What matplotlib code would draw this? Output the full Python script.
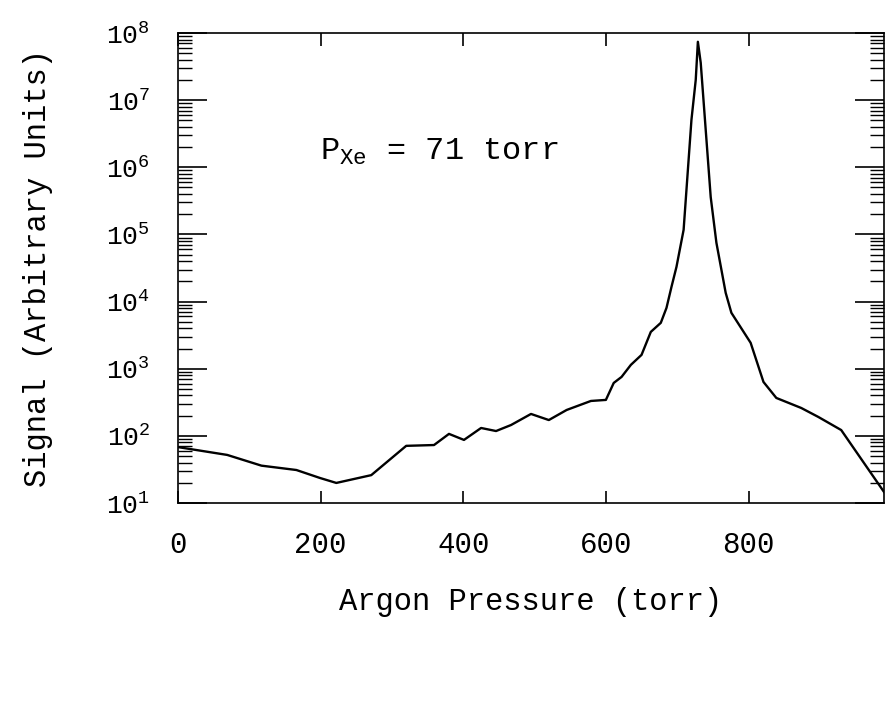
import math
import matplotlib
matplotlib.use("Agg")
import matplotlib.pyplot as plt
from matplotlib.ticker import LogLocator, FuncFormatter, FixedLocator, NullLocator

plt.rcParams['font.family'] = ['Liberation Mono', 'DejaVu Sans Mono']
plt.rcParams['mathtext.fontset'] = 'custom'
plt.rcParams['mathtext.rm'] = 'Liberation Mono'
plt.rcParams['mathtext.it'] = 'Liberation Mono'

# Data
pressure = [0, 69, 117, 166, 199, 222, 271, 320, 359, 380, 401, 425, 446, 467,
            495, 520, 545, 579, 600, 611, 622, 635, 650, 663, 677, 685, 692,
            699, 709, 720, 726, 729, 733, 740, 747, 755, 768, 776, 803, 821,
            839, 874, 898, 930, 990]
signal = [68, 52, 36, 31, 23.6, 19.9, 26, 71, 73, 107, 87, 131, 118, 145,
          212, 172, 243, 331, 343, 614, 755, 1140, 1607, 3535, 4820, 8060, 16560,
          32900, 1.17e5, 5.1e6, 2.0e7, 7.4e7, 3.6e7, 3.6e6, 3.6e5, 7.5e4, 1.35e4, 6800, 2430, 635,
          367, 260, 191, 122, 14.6]
x_ticks = [0, 200, 400, 600, 800]
y_decades = [1e1, 1e2, 1e3, 1e4, 1e5, 1e6, 1e7, 1e8]

fig = plt.figure(figsize=(8.86, 7.16), dpi=100)
ax = fig.add_axes([178/886, 1-503/716, (884-178)/886, (503-33)/716])

ax.plot(pressure, signal, color='black', lw=1.7)
ax.set_yscale('log')
ax.set_xlim(0, 990)
ax.set_ylim(1e1, 1e8)

ax.xaxis.set_major_locator(FixedLocator(x_ticks))
ax.xaxis.set_minor_locator(NullLocator())
ax.yaxis.set_major_locator(FixedLocator(y_decades))
ax.yaxis.set_minor_locator(LogLocator(base=10, subs=range(2, 10), numticks=20))
ax.yaxis.set_major_formatter(FuncFormatter(
    lambda v, p: r'$\mathregular{10^{%d}}$' % round(math.log10(v))))

ax.tick_params(axis='x', which='major', direction='in', length=9, width=1.2,
               top=True, bottom=True, labelsize=21, pad=20)
ax.tick_params(axis='y', which='major', direction='in', length=21, width=1.2,
               left=True, right=True, labelsize=19, pad=20)
ax.tick_params(axis='y', which='minor', direction='in', length=10, width=1.0,
               left=True, right=True)
for s in ax.spines.values():
    s.set_linewidth(1.2)

ax.set_xlabel('Argon Pressure (torr)', fontsize=22, labelpad=20)
ax.set_ylabel('Signal (Arbitrary Units)', fontsize=22, labelpad=38)

ax.text(199, 1.3e6, r'P$_{\mathregular{Xe}}$ = 71 torr', fontsize=23,
        ha='left', va='baseline')

fig.savefig('out.png', dpi=100, facecolor='white')
